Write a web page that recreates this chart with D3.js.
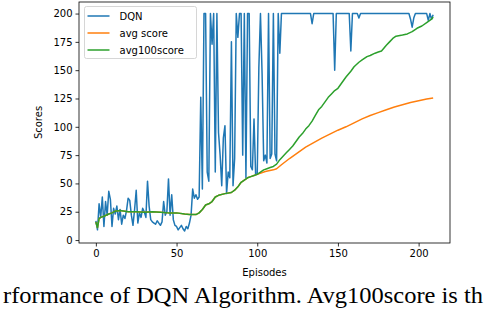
<!DOCTYPE html>
<html>
<head>
<meta charset="utf-8">
<script src="https://cdn.jsdelivr.net/npm/d3@7"></script>
<style>
  body { margin: 0; background: #fff; }
  svg { display: block; }
  text { font-family: "DejaVu Sans", sans-serif; }
</style>
</head>
<body>
<div id="chart"></div>
<script>
// DQN score per episode (0..209)
const dqnScores = [
  17, 9, 32, 20, 38, 12, 34, 22, 43, 36,
  12, 28, 23, 30, 18, 27, 14, 22, 19, 26,
  37, 35, 22, 13, 27, 44, 15, 24, 20, 28,
  25, 20, 52, 30, 18, 16, 15, 14, 17, 15,
  13, 16, 34, 22, 25, 54, 22, 40, 18, 13,
  12, 9, 11, 13, 10, 8, 12, 10, 15, 22,
  45, 37, 40, 36, 38, 126, 45, 200, 200, 60,
  52, 200, 173, 200, 60, 200, 95, 75, 48, 90,
  101, 41, 60, 55, 175, 48, 72, 200, 179, 200,
  200, 75, 200, 55, 200, 200, 65, 62, 107, 58,
  58, 152, 200, 147, 70, 75, 68, 200, 72, 76,
  200, 76, 70, 200, 165, 200, 200, 200, 200, 200,
  200, 200, 200, 200, 200, 200, 200, 200, 200, 200,
  200, 200, 200, 200, 191, 200, 200, 200, 200, 200,
  200, 200, 200, 200, 200, 200, 200, 200, 150, 200,
  200, 200, 200, 200, 200, 200, 200, 200, 167, 200,
  200, 200, 200, 196, 200, 200, 200, 200, 200, 200,
  200, 200, 200, 200, 200, 200, 200, 200, 200, 200,
  200, 200, 200, 200, 200, 200, 200, 200, 200, 200,
  200, 200, 200, 200, 200, 195, 188, 196, 200, 200,
  200, 200, 200, 200, 200, 200, 194, 200, 195, 199
];

// avg score (cumulative mean)
const avgEpisodes = [0, 1, 2, 3, 5, 8, 10, 12, 15, 20, 25, 30, 35, 40, 45, 50, 55, 58, 62, 64, 66, 68, 70, 72, 74, 76, 80, 84, 86, 88, 90, 92, 94, 96, 98, 100,
  105, 110, 112, 115, 120, 125, 130, 135, 140, 145, 150, 155, 160, 165, 170, 175, 180, 185, 190, 195, 200, 205, 209];
const avgScores = [16, 11, 19, 20, 21, 23, 24, 25.5, 26, 25, 25, 24.5, 25, 24.5, 24, 24, 23, 22.5, 22.5, 24, 27, 31, 32, 34, 38, 39.5, 41, 42, 44, 47, 51, 53, 55, 56, 57, 58,
  60.5, 62, 63, 66.5, 72, 77, 82, 86, 90, 93.5, 97, 100, 103.5, 107, 110, 112.5, 115, 117.5, 119.5, 121.5, 123, 124.5, 125.5];

// avg100score (mean of last 100)
const avg100Episodes = [0, 1, 2, 3, 5, 8, 10, 12, 15, 20, 25, 30, 35, 40, 45, 50, 55, 58, 62, 64, 66, 68, 70, 72, 74, 76, 80, 84, 86, 88, 90, 92, 94, 96, 98, 100,
  102, 104, 106, 108, 110, 112, 114, 116, 118, 120, 122, 124, 126, 128, 130, 132, 134, 136, 138, 140, 142, 144, 146, 148, 150, 152, 155,
  158, 160, 163, 165, 168, 170, 173, 175, 177, 180, 182, 184, 186, 190, 193, 196, 199, 202, 205, 208, 209];
const avg100Scores = [16, 11, 19, 20, 21, 23, 24, 25.5, 26, 25, 25, 24.5, 25, 24.5, 24, 24, 23, 22.5, 22.5, 24, 27, 31, 32, 34, 38, 39.5, 41, 42, 44, 47, 51, 53, 55, 56, 57, 58,
  60, 62, 63, 64, 65, 67, 71, 74, 77, 80, 83, 87, 91, 94, 98, 101, 105, 110, 115, 118, 122, 126, 129, 132, 134, 138, 144,
  149, 153, 157, 159, 162, 163, 165, 166, 167, 172, 175, 178, 180, 181, 182, 184, 187, 189, 192, 195, 197];

const xTicks = [0, 50, 100, 150, 200];
const yTicks = [0, 25, 50, 75, 100, 125, 150, 175, 200];
const seriesNames = ['DQN', 'avg score', 'avg100score'];
const seriesColors = ['#1f77b4', '#ff7f0e', '#2ca02c'];

const width = 486, height = 312;
const svg = d3.select('#chart').append('svg')
    .attr('width', width)
    .attr('height', height);

const x = d3.scaleLinear().domain([-10.45, 219.45]).range([79, 450]);
const y = d3.scaleLinear().domain([-2.6, 210.2]).range([243, 2]);

const line = d3.line()
    .x(d => x(d[0]))
    .y(d => y(d[1]));

const dqnData = dqnScores.map((v, i) => [i, v]);
const avgData = avgEpisodes.map((e, i) => [e, avgScores[i]]);
const avg100Data = avg100Episodes.map((e, i) => [e, avg100Scores[i]]);

svg.append('path').datum(dqnData)
    .attr('d', line).attr('fill', 'none')
    .attr('stroke', seriesColors[0]).attr('stroke-width', 1.5)
    .attr('stroke-linejoin', 'round');
svg.append('path').datum(avgData)
    .attr('d', line).attr('fill', 'none')
    .attr('stroke', seriesColors[1]).attr('stroke-width', 1.5)
    .attr('stroke-linejoin', 'round');
svg.append('path').datum(avg100Data)
    .attr('d', line).attr('fill', 'none')
    .attr('stroke', seriesColors[2]).attr('stroke-width', 1.5)
    .attr('stroke-linejoin', 'round');

// axes
const xAxis = svg.append('g')
    .attr('transform', 'translate(0,243)')
    .call(d3.axisBottom(x).tickValues(xTicks).tickSize(3.5).tickPadding(3).tickSizeOuter(0));
const yAxis = svg.append('g')
    .attr('transform', 'translate(79,0)')
    .call(d3.axisLeft(y).tickValues(yTicks).tickSize(3.5).tickPadding(3).tickSizeOuter(0));
[xAxis, yAxis].forEach(g => {
    g.select('.domain').remove();
    g.selectAll('line').attr('stroke', '#000').attr('stroke-width', 0.8);
    g.selectAll('text').attr('fill', '#000')
        .style('font-family', '"DejaVu Sans", sans-serif').style('font-size', '10px');
});

// frame
svg.append('rect')
    .attr('x', 79).attr('y', 2)
    .attr('width', 371).attr('height', 241)
    .attr('fill', 'none').attr('stroke', '#000').attr('stroke-width', 0.8);

// axis labels
svg.append('text')
    .attr('x', 264.5).attr('y', 276)
    .attr('text-anchor', 'middle')
    .style('font-size', '10px')
    .text('Episodes');
svg.append('text')
    .attr('transform', 'translate(42,122.5) rotate(-90)')
    .attr('text-anchor', 'middle')
    .style('font-size', '10px')
    .text('Scores');

// legend
const legend = svg.append('g').attr('transform', 'translate(84.5,6.5)');
legend.append('rect')
    .attr('width', 112).attr('height', 52).attr('rx', 2)
    .attr('fill', '#fff').attr('fill-opacity', 0.8)
    .attr('stroke', '#ccc').attr('stroke-width', 0.8);
seriesNames.forEach((name, i) => {
    const row = legend.append('g').attr('transform', `translate(0, ${9.5 + i * 17})`);
    row.append('line')
        .attr('x1', 3).attr('x2', 25)
        .attr('stroke', seriesColors[i]).attr('stroke-width', 1.5);
    row.append('text')
        .attr('x', 35).attr('y', 3.5)
        .style('font-size', '10px')
        .text(name);
});

// caption fragment below the figure, squeezed to fit the width
svg.append('text')
    .attr('x', 3).attr('y', 303)
    .attr('textLength', 480)
    .attr('lengthAdjust', 'spacingAndGlyphs')
    .style('font-family', '"Liberation Serif", serif')
    .style('font-size', '24px')
    .text('rformance of DQN Algorithm. Avg100score is th');
</script>
</body>
</html>
